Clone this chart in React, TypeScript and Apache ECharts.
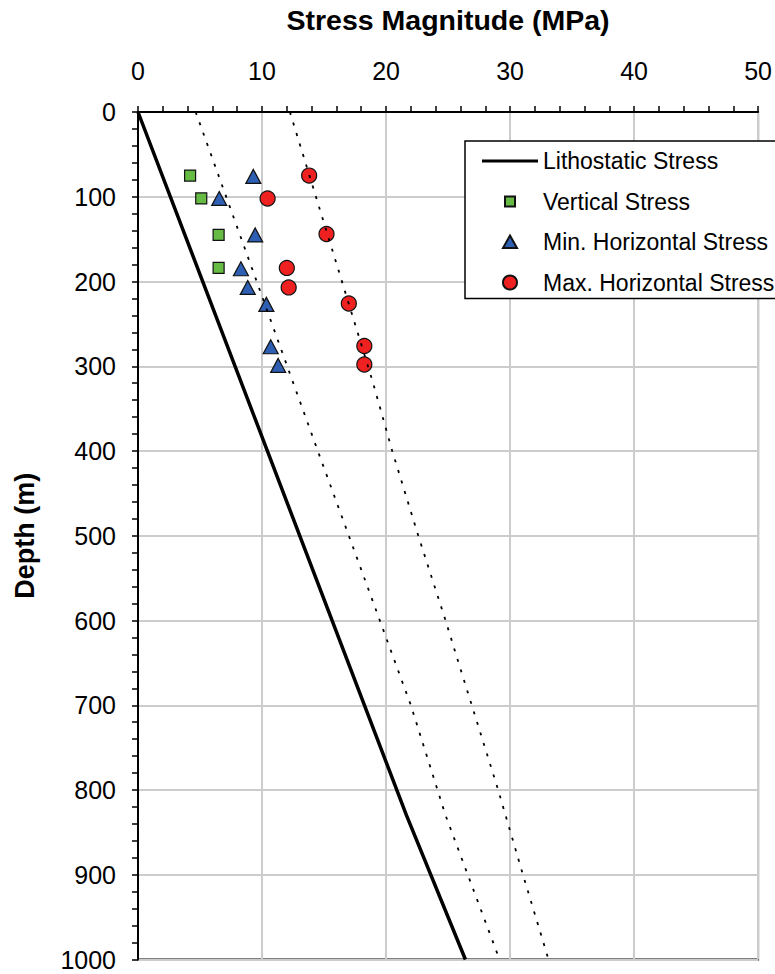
import React, { useEffect, useRef } from "react";
import * as echarts from "echarts";

// Stress magnitude (MPa) versus depth (m): [stress, depth]
const lithostatic: [number, number][] = [
  [0, 0], [21.65, 830], [26.4, 1000],
];
const verticalStress: [number, number][] = [
  [4.2, 75], [5.1, 102], [6.5, 145], [6.5, 184],
];
const minHorizontal: [number, number][] = [
  [9.3, 76], [6.55, 102], [9.45, 145], [8.3, 185], [8.85, 207], [10.35, 227], [10.7, 277], [11.3, 299],
];
const maxHorizontal: [number, number][] = [
  [13.8, 75], [10.45, 102], [15.2, 144], [12.0, 184], [12.15, 207], [17.0, 226], [18.25, 276], [18.25, 298],
];
// Dotted trend lines bounding the horizontal stress data
const minTrend: [number, number][] = [
  [4.65, 0], [12.45, 317], [14.5, 400], [17.0, 500], [19.5, 600], [22.0, 700], [24.8, 830], [29.15, 1000],
];
const maxTrend: [number, number][] = [
  [12.25, 0], [18.9, 317], [20.5, 400], [22.6, 500], [24.8, 600], [25.85, 650], [29.0, 798], [31.0, 898], [33.1, 1000],
];

const legendNames = [
  "Lithostatic Stress",
  "Vertical Stress",
  "Min. Horizontal Stress",
  "Max. Horizontal Stress",
];

const FONT = "'Liberation Sans', Arial, sans-serif";

// Legend glyphs: a plain line sample and small markers padded inside a 14px box
const LINE_ICON = "path://M0,0h0M0,5.5h56v3h-56zM56,14h0";
const SQUARE_ICON = "path://M0,0h0M2,2h10v10h-10zM14,14h0";
const TRIANGLE_ICON = "path://M0,0h0M7,0.5L14,13L0,13zM14,14h0";

export default function App() {
  const ref = useRef<HTMLDivElement>(null);

  useEffect(() => {
    if (!ref.current) return;
    const chart = echarts.init(ref.current, undefined, { renderer: "svg" });
    const dotted = { color: "#000", width: 1.8, type: [3, 8] as number[] };
    chart.setOption({
      animation: false,
      backgroundColor: "#fff",
      textStyle: { fontFamily: FONT },
      grid: {
        left: 138,
        top: 110,
        width: 620.5,
        height: 849.5,
        show: true,
        borderColor: "#000",
        borderWidth: 2,
        backgroundColor: "transparent",
      },
      legend: {
        orient: "vertical",
        left: 465,
        top: 141,
        data: [
          { name: legendNames[0], icon: LINE_ICON },
          { name: legendNames[1], icon: SQUARE_ICON },
          { name: legendNames[2], icon: TRIANGLE_ICON },
          { name: legendNames[3], icon: "circle" },
        ],
        itemWidth: 56,
        itemHeight: 14,
        itemGap: 16.5,
        padding: [8, 30, 4, 17],
        backgroundColor: "#fff",
        borderColor: "#000",
        borderWidth: 1.5,
        borderRadius: 0,
        selectedMode: false,
        textStyle: { fontFamily: FONT, fontSize: 23, color: "#000", lineHeight: 24 },
      },
      xAxis: {
        type: "value",
        position: "top",
        min: 0,
        max: 50,
        interval: 10,
        name: "Stress Magnitude (MPa)",
        nameLocation: "middle",
        nameGap: 78,
        nameTextStyle: { fontFamily: FONT, fontSize: 28.5, fontWeight: "bold", color: "#000" },
        axisLine: { show: true, lineStyle: { color: "#000", width: 2 } },
        axisTick: { show: true, length: 6, lineStyle: { color: "#000", width: 1.5 } },
        minorTick: { show: true, splitNumber: 5, length: 6, lineStyle: { color: "#000", width: 1.5 } },
        splitLine: { show: true, lineStyle: { color: "#cccccc", width: 2 } },
        axisLabel: { fontFamily: FONT, fontSize: 25, color: "#000", margin: 29 },
      },
      yAxis: {
        type: "value",
        inverse: true,
        min: 0,
        max: 1000,
        interval: 100,
        name: "Depth (m)",
        nameLocation: "middle",
        nameGap: 100,
        nameTextStyle: { fontFamily: FONT, fontSize: 27, fontWeight: "bold", color: "#000" },
        axisLine: { show: true, lineStyle: { color: "#000", width: 2 } },
        axisTick: { show: true, length: 6, lineStyle: { color: "#000", width: 1.5 } },
        minorTick: { show: true, splitNumber: 5, length: 6, lineStyle: { color: "#000", width: 1.5 } },
        splitLine: { show: true, lineStyle: { color: "#cccccc", width: 2 } },
        axisLabel: {
          fontFamily: FONT,
          fontSize: 25,
          color: "#000",
          margin: 22,
          formatter: (v: number) => String(v),
        },
      },
      series: [
        {
          name: legendNames[0],
          type: "line",
          data: lithostatic,
          symbol: "none",
          lineStyle: { color: "#000", width: 3.5 },
          itemStyle: { color: "#000" },
          z: 2,
        },
        {
          name: legendNames[1],
          type: "scatter",
          data: verticalStress,
          symbol: "rect",
          symbolSize: 11,
          itemStyle: { color: "#66bb44", borderColor: "#111", borderWidth: 1.2, opacity: 1 },
          z: 3,
        },
        {
          name: legendNames[2],
          type: "scatter",
          data: minHorizontal,
          symbol: "triangle",
          symbolSize: [15, 14],
          itemStyle: { color: "#2f5fb3", borderColor: "#111", borderWidth: 1.2, opacity: 1 },
          z: 3,
        },
        {
          name: legendNames[3],
          type: "scatter",
          data: maxHorizontal,
          symbol: "circle",
          symbolSize: 15,
          itemStyle: { color: "#ee2020", borderColor: "#111", borderWidth: 1.2, opacity: 1 },
          z: 3,
        },
        {
          name: "Min. Horizontal Trend",
          type: "line",
          data: minTrend,
          symbol: "none",
          lineStyle: dotted,
          z: 4,
        },
        {
          name: "Max. Horizontal Trend",
          type: "line",
          data: maxTrend,
          symbol: "none",
          lineStyle: dotted,
          z: 4,
        },
      ],
    });
    return () => chart.dispose();
  }, []);

  return (
    <div
      ref={ref}
      style={{ position: "fixed", left: 0, top: 0, width: 775, height: 974 }}
    />
  );
}
